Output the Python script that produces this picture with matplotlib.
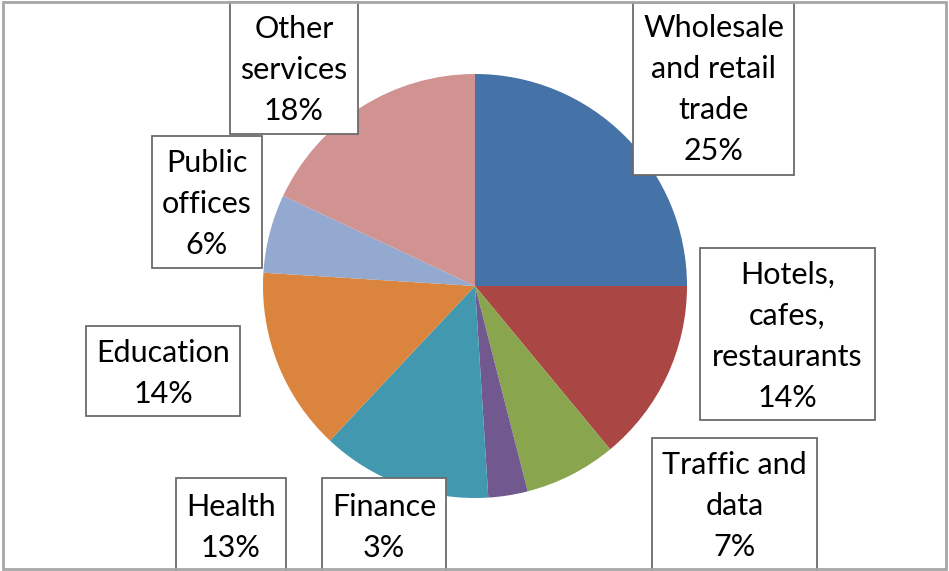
import matplotlib.pyplot as plt
from matplotlib.patches import Rectangle

# sectors, clockwise from 12 o'clock
sectors = ['Wholesale\nand retail\ntrade', 'Hotels,\ncafes,\nrestaurants',
           'Traffic and\ndata', 'Finance', 'Health', 'Education',
           'Public\noffices', 'Other\nservices']
shares = [25, 14, 7, 3, 13, 14, 6, 18]
colors = ['#4572A7', '#AA4643', '#89A54E', '#71588F',
          '#4198AF', '#DB843D', '#93A9CF', '#D19392']

# label boxes in pixels (left, top, right, bottom), image coordinates
boxes = [(633, 3, 794, 175), (700, 248, 875, 420), (652, 438, 817, 575),
         (322, 478, 446, 575), (176, 478, 286, 575), (86, 326, 240, 416),
         (152, 136, 262, 268), (230, 2, 358, 134)]
# centre of the first text line in each box
first_line = [28, 275, 465, 507, 507, 353, 163, 29]

W, H = 949, 571
fig = plt.figure(figsize=(W / 100, H / 100), dpi=100)
ax = fig.add_axes([0, 0, 1, 1])

ax.pie(shares, colors=colors, startangle=90, counterclock=False,
       center=(475, H - 286), radius=212,
       wedgeprops=dict(linewidth=0))
ax.set_xlim(0, W)
ax.set_ylim(0, H)
ax.set_aspect('equal')
ax.axis('off')

step = 41
for name, val, (l, t, r, b), y0 in zip(sectors, shares, boxes, first_line):
    ax.add_patch(Rectangle((l, H - b), r - l, b - t, facecolor='white',
                           edgecolor='#6b6b6b', linewidth=1.3, zorder=3))
    lines = name.split('\n') + [f'{val}%']
    for i, s in enumerate(lines):
        ax.text((l + r) / 2, H - (y0 + i * step), s, ha='center', va='center',
                fontsize=22, family='Lato', color='black', zorder=4)

# outer chart frame
ax.add_patch(Rectangle((3, 2), W - 6, H - 4, fill=False,
                       edgecolor='#a6a6a6', linewidth=2, zorder=5))

fig.savefig('out.png', dpi=100)
